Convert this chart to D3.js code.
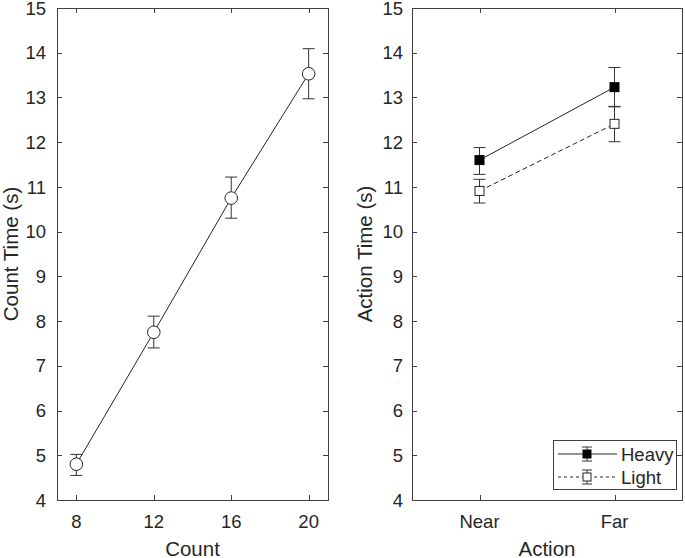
<!DOCTYPE html>
<html><head><meta charset="utf-8">
<script src="https://cdn.jsdelivr.net/npm/d3@7/dist/d3.min.js"></script>
<style>body{margin:0;background:#fff}svg{display:block}text{font-family:"Liberation Sans",Arial,sans-serif;fill:#262626}</style>
</head><body>
<svg id="c" width="685" height="558"></svg>
<script>
// Left panel data
const counts = [8, 12, 16, 20];
const countMean = [4.80, 7.75, 10.75, 13.53];
const countLo = [4.55, 7.40, 10.30, 12.97];
const countHi = [5.02, 8.11, 11.22, 14.09];
const countTicks = [8, 12, 16, 20];
// Right panel data
const actions = ["Near", "Far"];
const heavyMean = [11.60, 13.23];
const heavyLo = [11.28, 12.80];
const heavyHi = [11.88, 13.67];
const lightMean = [10.91, 12.41];
const lightLo = [10.64, 12.01];
const lightHi = [11.17, 12.79];
const yTicks = [4, 5, 6, 7, 8, 9, 10, 11, 12, 13, 14, 15];

const svg = d3.select("#c");
const axisCol = "#404040";
const yTop = 8, yBot = 500;
const tickFont = 18.5, labelFont = 20.5;
const y = d3.scaleLinear().domain([4, 15]).range([yBot, yTop]);

function frame(x0, x1, xScale, xtv, xfmt, ylabel, xlabel, ylabX, ytickGap) {
  const g = svg.append("g");
  g.append("rect").attr("x", x0 + 0.5).attr("y", yTop + 0.5).attr("width", x1 - x0).attr("height", yBot - yTop)
    .attr("fill", "none").attr("stroke", axisCol).attr("stroke-width", 1);
  const tl = 5;
  yTicks.forEach(v => {
    const yy = Math.round(y(v)) + 0.5;
    g.append("line").attr("x1", x0).attr("x2", x0 + tl).attr("y1", yy).attr("y2", yy).attr("stroke", axisCol);
    g.append("line").attr("x1", x1).attr("x2", x1 - tl).attr("y1", yy).attr("y2", yy).attr("stroke", axisCol);
    g.append("text").attr("x", x0 - ytickGap).attr("y", y(v)).attr("dy", "0.36em").attr("text-anchor", "end")
      .attr("font-size", tickFont).text(v);
  });
  xtv.forEach((v, i) => {
    const xx = Math.round(xScale(v)) + 0.5;
    g.append("line").attr("x1", xx).attr("x2", xx).attr("y1", yBot).attr("y2", yBot - tl).attr("stroke", axisCol);
    g.append("line").attr("x1", xx).attr("x2", xx).attr("y1", yTop).attr("y2", yTop + tl).attr("stroke", axisCol);
    g.append("text").attr("x", xScale(v)).attr("y", 528).attr("text-anchor", "middle")
      .attr("font-size", tickFont).text(xfmt(v, i));
  });
  g.append("text").attr("transform", `translate(${ylabX},${(yTop + yBot) / 2}) rotate(-90)`)
    .attr("text-anchor", "middle").attr("font-size", labelFont).text(ylabel);
  g.append("text").attr("x", (x0 + x1) / 2).attr("y", 556).attr("text-anchor", "middle")
    .attr("font-size", labelFont).text(xlabel);
}

function errbar(x, lo, hi, cap) {
  const g = svg.append("g").attr("stroke", "#333").attr("stroke-width", 1);
  g.append("line").attr("x1", x).attr("x2", x).attr("y1", y(lo)).attr("y2", y(hi));
  g.append("line").attr("x1", x - cap).attr("x2", x + cap).attr("y1", y(lo)).attr("y2", y(lo));
  g.append("line").attr("x1", x - cap).attr("x2", x + cap).attr("y1", y(hi)).attr("y2", y(hi));
}

// Left panel
const xL = d3.scaleLinear().domain([7, 21]).range([57, 328]);
frame(57, 328, xL, countTicks, v => v, "Count Time (s)", "Count", 18, 11);
const lineL = d3.line().x((d, i) => xL(counts[i])).y(d => y(d));
svg.append("path").attr("d", lineL(countMean)).attr("fill", "none").attr("stroke", "#262626").attr("stroke-width", 1);
counts.forEach((c, i) => errbar(xL(c), countLo[i], countHi[i], 6));
counts.forEach((c, i) => {
  svg.append("circle").attr("cx", xL(c)).attr("cy", y(countMean[i])).attr("r", 6.3)
    .attr("fill", "#fff").attr("stroke", "#262626").attr("stroke-width", 1);
});

// Right panel
const xR = d3.scaleLinear().domain([0.5, 2.5]).range([412, 682]);
frame(412, 682, xR, [1, 2], (v, i) => actions[i], "Action Time (s)", "Action", 372, 9);
const lineR = d3.line().x((d, i) => xR(i + 1)).y(d => y(d));
svg.append("path").attr("d", lineR(heavyMean)).attr("fill", "none").attr("stroke", "#262626").attr("stroke-width", 1);
svg.append("path").attr("d", lineR(lightMean)).attr("fill", "none").attr("stroke", "#262626").attr("stroke-width", 1).attr("stroke-dasharray", "5,3");
actions.forEach((a, i) => {
  errbar(xR(i + 1), heavyLo[i], heavyHi[i], 6);
  errbar(xR(i + 1), lightLo[i], lightHi[i], 6);
});
const sq = 9;
actions.forEach((a, i) => {
  svg.append("rect").attr("x", xR(i + 1) - sq / 2).attr("y", y(heavyMean[i]) - sq / 2).attr("width", sq).attr("height", sq)
    .attr("fill", "#000").attr("stroke", "#000");
  svg.append("rect").attr("x", xR(i + 1) - sq / 2).attr("y", y(lightMean[i]) - sq / 2).attr("width", sq).attr("height", sq)
    .attr("fill", "#fff").attr("stroke", "#262626");
});

// Legend
const lg = svg.append("g");
lg.append("rect").attr("x", 553.5).attr("y", 440.5).attr("width", 123).attr("height", 49)
  .attr("fill", "#fff").attr("stroke", axisCol);
const series = [
  { name: "Heavy", fill: "#000", dash: null, yy: 454 },
  { name: "Light", fill: "#fff", dash: "3,3", yy: 477 }
];
series.forEach(s => {
  lg.append("line").attr("x1", 558).attr("x2", 617).attr("y1", s.yy).attr("y2", s.yy)
    .attr("stroke", "#262626").attr("stroke-dasharray", s.dash);
  const cx = 587;
  lg.append("line").attr("x1", cx).attr("x2", cx).attr("y1", s.yy - 7).attr("y2", s.yy + 7).attr("stroke", "#333");
  lg.append("line").attr("x1", cx - 5).attr("x2", cx + 5).attr("y1", s.yy - 7).attr("y2", s.yy - 7).attr("stroke", "#333");
  lg.append("line").attr("x1", cx - 5).attr("x2", cx + 5).attr("y1", s.yy + 7).attr("y2", s.yy + 7).attr("stroke", "#333");
  lg.append("rect").attr("x", cx - 4).attr("y", s.yy - 4).attr("width", 8).attr("height", 8)
    .attr("fill", s.fill).attr("stroke", s.fill === "#000" ? "#000" : "#262626");
  lg.append("text").attr("x", 621).attr("y", s.yy).attr("dy", "0.36em").attr("font-size", tickFont).text(s.name);
});
</script>
</body></html>
